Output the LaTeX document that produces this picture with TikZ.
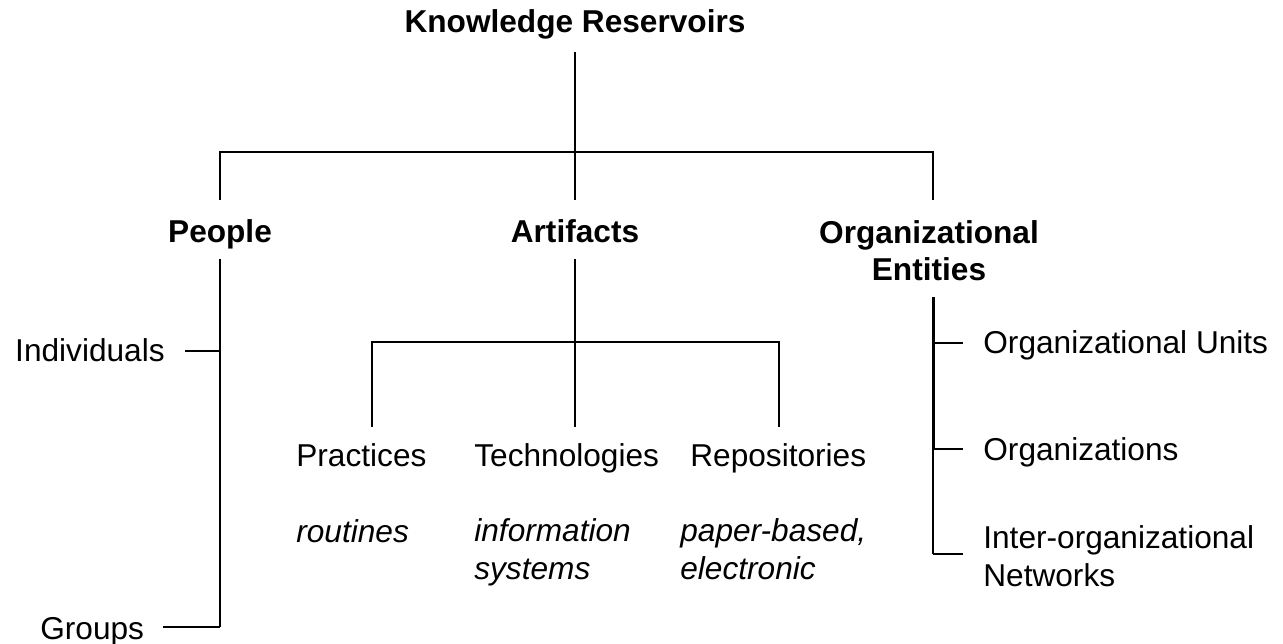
\documentclass[tikz,border=0pt]{standalone}
\usepackage{fontspec}
\setmainfont{Liberation Sans}
\usepackage{tikz}
\usetikzlibrary{positioning}

\begin{document}
\begin{tikzpicture}[
        x=0.02cm, y=-0.02cm,
        label/.style={inner sep=0pt, font=\fontsize{18pt}{21.3pt}\selectfont},
        head/.style={label, font=\fontsize{18pt}{21.3pt}\selectfont\bfseries, align=center},
        leaf/.style={label, anchor=base west, align=left},
        note/.style={label, anchor=base west, align=left, font=\fontsize{18pt}{21.3pt}\selectfont\itshape},
        link/.style={line width=1.1pt},
        trunk/.style={line width=1.7pt}
    ]
    \useasboundingbox (0,0) rectangle (1283,644);

    % Top level
    \node[head, anchor=base] (title) at (575,33) {Knowledge Reservoirs};

    % Second level
    \node[head, anchor=base] (people) at (220,243) {People};
    \node[head, anchor=base] (artifacts) at (575,243) {Artifacts};
    \node[head, anchor=north] (org_entities) at (929,220) {Organizational\\Entities};

    % People branch
    \node[label, anchor=base east] (individuals) at (165,362) {Individuals};
    \node[label, anchor=base west] (groups) at (40,639) {Groups};

    % Artifacts branch (base = last line)
    \node[leaf] (practices) at (296,466) {Practices};
    \node[leaf] (technologies) at (474,466) {Technologies};
    \node[leaf] (repositories) at (690,466) {Repositories};
    \node[note] (routines) at (296,542) {routines};
    \node[note] (info_systems) at (474,579) {information\\systems};
    \node[note] (paper_electronic) at (680,579) {paper-based,\\electronic};

    % Organizational branch
    \node[leaf] (org_units) at (983,354) {Organizational Units};
    \node[leaf] (organizations) at (983,460) {Organizations};
    \node[leaf] (inter_org) at (983,586) {Inter-organizational\\Networks};

    % Junction points
    \coordinate (title_out) at (575,52);
    \coordinate (main_bus) at (575,152);
    \coordinate (people_in) at (220,200);
    \coordinate (artifacts_in) at (575,200);
    \coordinate (org_in) at (933,200);
    \coordinate (people_out) at (220,259);
    \coordinate (individuals_join) at (220,351);
    \coordinate (groups_join) at (220,627);
    \coordinate (individuals_end) at (185,351);
    \coordinate (groups_end) at (163,627);
    \coordinate (artifacts_out) at (575,259);
    \coordinate (artifacts_bus) at (575,342);
    \coordinate (practices_in) at (372,427);
    \coordinate (technologies_in) at (575,427);
    \coordinate (repositories_in) at (779,427);
    \coordinate (org_out) at (933,297);
    \coordinate (units_join) at (933,343);
    \coordinate (orgs_join) at (933,449);
    \coordinate (inter_join) at (933,554);
    \coordinate (units_end) at (963,343);
    \coordinate (orgs_end) at (963,449);
    \coordinate (inter_end) at (963,554);

    % Connections - top level
    \draw[link] (title_out) -- (main_bus);
    \draw[link] (people_in) |- (main_bus) -| (org_in);
    \draw[link] (main_bus) -- (artifacts_in);

    % Connections - People
    \draw[trunk] (people_out) -- (individuals_join);
    \draw[link] (individuals_join) -- (groups_join);
    \draw[link] (individuals_end) -- (individuals_join);
    \draw[link] (groups_end) -- (groups_join);

    % Connections - Artifacts
    \draw[link] (artifacts_out) -- (technologies_in);
    \draw[link] (practices_in) |- (artifacts_bus) -| (repositories_in);

    % Connections - Organizational Entities
    \draw[trunk] (org_out) -- (orgs_join);
    \draw[link] (orgs_join) -- (inter_join);
    \draw[link] (units_join) -- (units_end);
    \draw[link] (orgs_join) -- (orgs_end);
    \draw[link] (inter_join) -- (inter_end);

\end{tikzpicture}
\end{document}
